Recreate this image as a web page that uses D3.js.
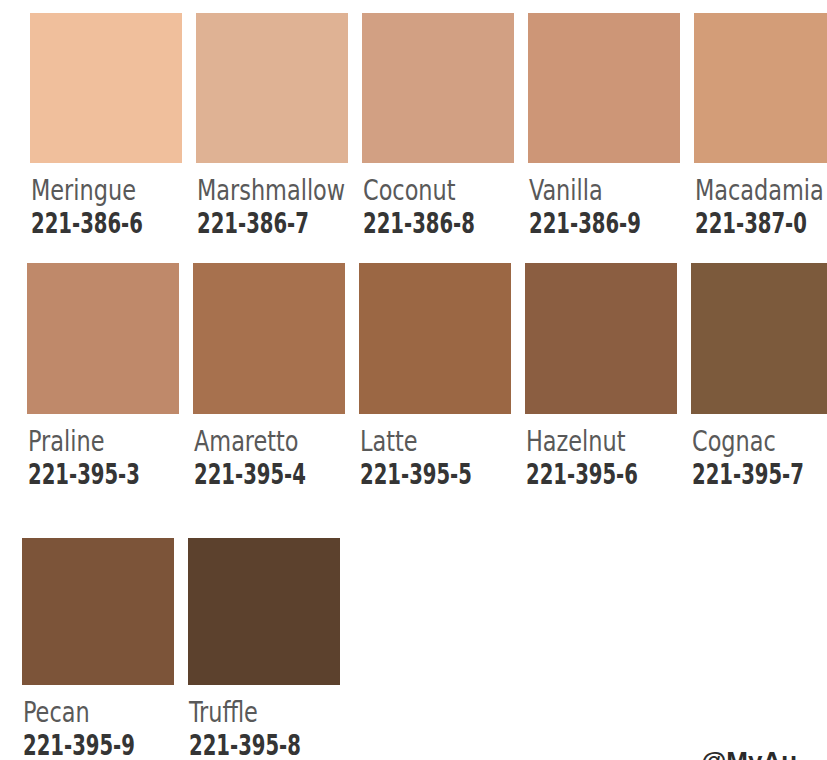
<!DOCTYPE html>
<html>
<head>
<meta charset="utf-8">
<script src="https://cdn.jsdelivr.net/npm/d3@7"></script>
<style>
  body { margin: 0; background: #fff; }
  svg { display: block; }
  .name { font-family: "DejaVu Sans Condensed", "DejaVu Sans", sans-serif; font-stretch: condensed; font-size: 29px; fill: #595959; }
  .code { font-family: "DejaVu Sans Condensed", "DejaVu Sans", sans-serif; font-stretch: condensed; font-size: 29px; font-weight: bold; fill: #353535; }
  .handle { font-family: "Liberation Sans", sans-serif; font-size: 26px; font-weight: bold; fill: #2a2a2a; }
</style>
</head>
<body>
<div id="chart"></div>
<script>
// paint colour swatches
var names  = ['Meringue', 'Marshmallow', 'Coconut', 'Vanilla', 'Macadamia',
              'Praline', 'Amaretto', 'Latte', 'Hazelnut', 'Cognac',
              'Pecan', 'Truffle'];
var codes  = ['221-386-6', '221-386-7', '221-386-8', '221-386-9', '221-387-0',
              '221-395-3', '221-395-4', '221-395-5', '221-395-6', '221-395-7',
              '221-395-9', '221-395-8'];
var colors = ['#f0bf9c', '#dfb294', '#d2a083', '#cd9677', '#d39d78',
              '#bf896a', '#a7714e', '#9b6744', '#8b5e41', '#7c5a3c',
              '#7c5439', '#5c412d'];
var rows   = [0, 0, 0, 0, 0, 1, 1, 1, 1, 1, 2, 2];
var cols   = [0, 1, 2, 3, 4, 0, 1, 2, 3, 4, 0, 1];

var width = 827, height = 760;
var swatchW = 152;
var rowTop  = [13, 263, 538];
var rowH    = [150, 151, 147];
var rowLeft = [30, 27, 22];
var nameW   = 105;   // drawn width of "Meringue" in the reference
var codeW   = 112;   // drawn width of "221-386-6"

var x = d3.scaleLinear().domain([0, 1]).range([0, 166]);

var data = names.map(function(n, i) {
  return { name: n, code: codes[i], color: colors[i], row: rows[i], col: cols[i] };
});

var svg = d3.select('#chart').append('svg')
    .attr('width', width)
    .attr('height', height);

var cell = svg.selectAll('g.cell')
    .data(data)
  .enter().append('g')
    .attr('class', 'cell')
    .attr('transform', function(d) {
      return 'translate(' + (rowLeft[d.row] + x(d.col)) + ',' + rowTop[d.row] + ')';
    });

cell.append('rect')
    .attr('width', swatchW)
    .attr('height', function(d) { return rowH[d.row]; })
    .style('fill', function(d) { return d.color; });

var nameText = cell.append('text')
    .attr('class', 'name')
    .attr('y', function(d) { return rowH[d.row] + 37; })
    .text(function(d) { return d.name; });

var codeText = cell.append('text')
    .attr('class', 'code')
    .attr('y', function(d) { return rowH[d.row] + 70; })
    .text(function(d) { return d.code; });

// squeeze the type so it looks like the narrow face of the original
var kn = Math.min(1, nameW / nameText.node().getComputedTextLength());
var kc = Math.min(1, codeW / codeText.node().getComputedTextLength());
nameText.attr('transform', 'translate(1,0) scale(' + kn + ',1)');
codeText.attr('transform', 'translate(1,0) scale(' + kc + ',1)');

// watermark, cut off at the corner
svg.append('text')
    .attr('class', 'handle')
    .attr('x', 701)
    .attr('y', 770)
    .text('@MyAu');
</script>
</body>
</html>
